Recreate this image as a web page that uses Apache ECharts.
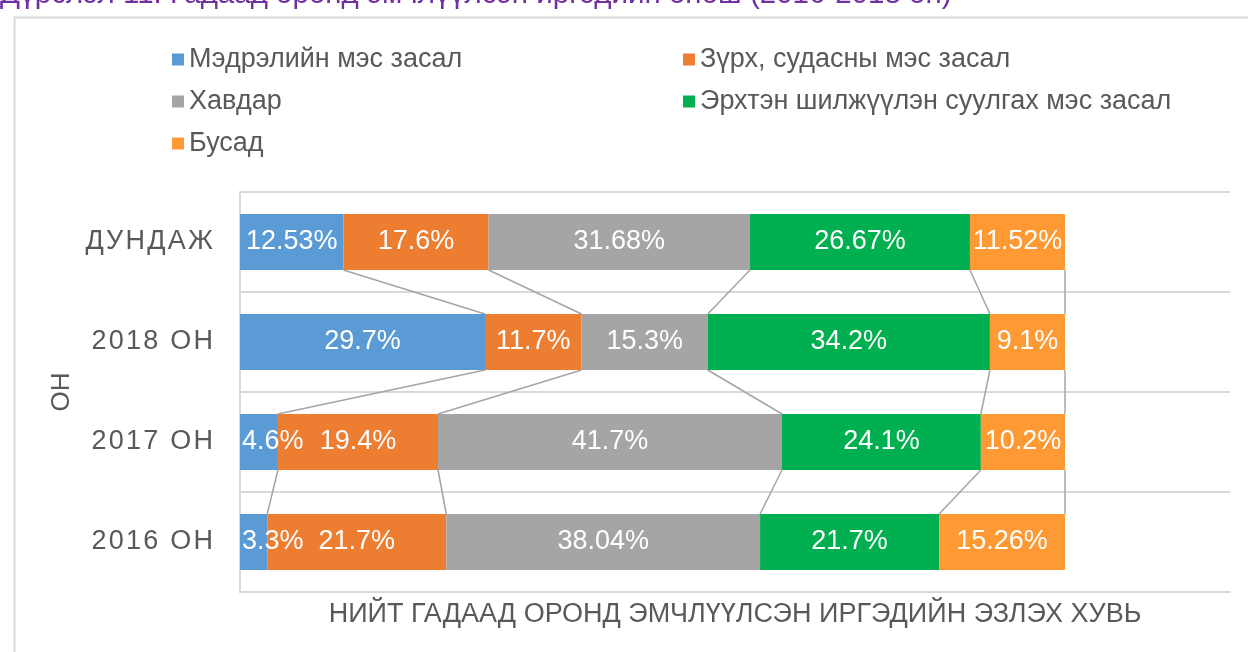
<!DOCTYPE html>
<html>
<head>
<meta charset="utf-8">
<script src="https://cdn.jsdelivr.net/npm/echarts@6/dist/echarts.min.js"></script>
<style>
html, body { margin: 0; padding: 0; background: #fff; }
#chart { width: 1248px; height: 652px; }
</style>
</head>
<body>
<div id="chart"></div>
<script>
// rows, bottom to top as the category axis draws them
const categories = ['2016 ОН', '2017 ОН', '2018 ОН', 'ДУНДАЖ']
const seriesNames = [
  'Мэдрэлийн мэс засал',
  'Зүрх, судасны мэс засал',
  'Хавдар',
  'Эрхтэн шилжүүлэн суулгах мэс засал',
  'Бусад'
]
const neuro = [3.3, 4.6, 29.7, 12.53]
const cardio = [21.7, 19.4, 11.7, 17.6]
const cancer = [38.04, 41.7, 15.3, 31.68]
const transplant = [21.7, 24.1, 34.2, 26.67]
const other = [15.26, 10.2, 9.1, 11.52]

const colors = ['#5B9BD5', '#ED7D31', '#A5A5A5', '#00B050', '#FF9933']
const font = "'Liberation Sans', Arial, sans-serif"
const textGray = '#595959'
const gridGray = '#D9D9D9'
const barRatio = 0.56

const stacks = [neuro, cardio, cancer, transplant, other]
const cumulative = categories.map((_, i) => {
  let s = 0
  return stacks.map(arr => (s += arr[i]))
})
// one connector group per pair of neighbouring rows
const connectorData = categories.slice(1).map((_, i) => [0, i])

const chart = echarts.init(document.getElementById('chart'))

const barSeries = stacks.map((arr, k) => ({
  name: seriesNames[k],
  type: 'bar',
  stack: 'total',
  barWidth: (barRatio * 100) + '%',
  itemStyle: { color: colors[k] },
  label: {
    show: true,
    position: 'inside',
    color: '#fff',
    fontSize: 27,
    fontFamily: font,
    formatter: '{c}%'
  },
  // very thin slices keep their label from running off the left edge
  data: arr.map(v => v < 6 ? { value: v, label: { position: 'insideLeft', distance: 2 } } : v),
  z: 3
}))

const connectors = {
  type: 'custom',
  silent: true,
  encode: { x: 0, y: 1 },
  data: connectorData,
  z: 2,
  renderItem: (params, api) => {
    const i = api.value(1)
    const half = api.size([0, 1])[1] * barRatio / 2
    const children = cumulative[i].map((v, k) => {
      const upper = api.coord([cumulative[i + 1][k], i + 1])
      const lower = api.coord([v, i])
      return {
        type: 'line',
        shape: { x1: upper[0], y1: upper[1] + half, x2: lower[0], y2: lower[1] - half },
        style: { stroke: '#A5A5A5', lineWidth: 1.5 }
      }
    })
    return { type: 'group', children }
  }
}

const legendText = { color: textGray, fontSize: 27, fontFamily: font }

const option = {
  backgroundColor: '#fff',
  animation: false,
  title: {
    text: 'Дүрслэл 11. Гадаад оронд эмчлүүлсэн иргэдийн онош (2016-2018 он)',
    left: 0,
    top: -20,
    padding: 0,
    textStyle: { color: '#7030A0', fontSize: 29.5, fontWeight: 'normal', fontFamily: font }
  },
  graphic: [{
    type: 'rect',
    left: 12,
    top: 15,
    shape: { width: 1300, height: 700 },
    style: { fill: 'none', stroke: gridGray, lineWidth: 2 },
    silent: true
  }],
  legend: [
    {
      data: [seriesNames[0], seriesNames[2], seriesNames[4]],
      orient: 'vertical',
      left: 172,
      top: 46,
      padding: 0,
      icon: 'rect',
      itemWidth: 12,
      itemHeight: 12,
      itemGap: 15,
      textStyle: legendText
    },
    {
      data: [seriesNames[1], seriesNames[3]],
      orient: 'vertical',
      left: 683,
      top: 46,
      padding: 0,
      icon: 'rect',
      itemWidth: 12,
      itemHeight: 12,
      itemGap: 15,
      textStyle: legendText
    }
  ],
  grid: { left: 240, right: 18, top: 192, bottom: 60, containLabel: false },
  xAxis: {
    type: 'value',
    min: 0,
    max: 120,
    name: 'НИЙТ ГАДААД ОРОНД ЭМЧЛҮҮЛСЭН ИРГЭДИЙН ЭЗЛЭХ ХУВЬ',
    nameLocation: 'middle',
    nameGap: 9,
    nameTextStyle: { color: textGray, fontSize: 27, fontFamily: font },
    axisLabel: { show: false },
    axisTick: { show: false },
    axisLine: { show: true, lineStyle: { color: gridGray, width: 2 } },
    splitLine: { show: false }
  },
  yAxis: {
    type: 'category',
    data: categories,
    name: 'ОН',
    nameLocation: 'middle',
    nameGap: 162,
    nameTextStyle: { color: textGray, fontSize: 26, fontFamily: font },
    axisLine: { show: true, lineStyle: { color: gridGray, width: 2 } },
    axisTick: { show: false },
    axisLabel: {
      color: textGray,
      fontSize: 27,
      fontFamily: font,
      margin: 27,
      formatter: v => v.split('').join('\u200A')
    },
    splitLine: { show: true, lineStyle: { color: gridGray, width: 2 } }
  },
  series: [...barSeries, connectors]
}

chart.setOption(option)
</script>
</body>
</html>
